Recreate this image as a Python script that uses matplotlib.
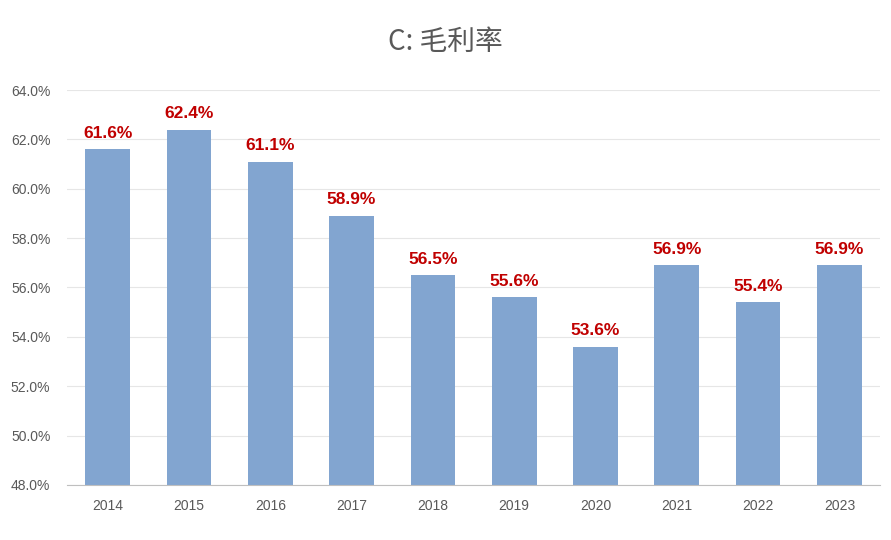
import matplotlib.pyplot as plt
from matplotlib.ticker import FuncFormatter

plt.rcParams['font.family'] = ['Noto Sans CJK SC', 'DejaVu Sans']

years = ['2014', '2015', '2016', '2017', '2018', '2019', '2020', '2021', '2022', '2023']
margin = [61.6, 62.4, 61.1, 58.9, 56.5, 55.6, 53.6, 56.9, 55.4, 56.9]

fig = plt.figure(figsize=(8.91, 5.4), dpi=100)
ax = fig.add_axes([0.0752, 0.1019, 0.9125, 0.7314])

x = range(len(years))
bars = ax.bar(x, margin, width=0.55, color='#82A5D0', zorder=2)

for xi, v in zip(x, margin):
    ax.text(xi, v + 0.35, f'{v:.1f}%', ha='center', va='bottom',
            color='#C00000', fontsize=12.5, fontweight='bold',
            family=['Calibri', 'Liberation Sans', 'DejaVu Sans'])

ax.set_ylim(48, 64)
ax.set_yticks(range(48, 65, 2))
ax.yaxis.set_major_formatter(FuncFormatter(lambda v, p: f'{v:.1f}%'))
ax.set_xlim(-0.5, 9.5)
ax.set_xticks(list(x))
ax.set_xticklabels(years)

ax.grid(axis='y', color='#E6E6E6', linewidth=0.8, zorder=0)
for s in ['top', 'right', 'left']:
    ax.spines[s].set_visible(False)
ax.spines['bottom'].set_color('#BFBFBF')
ax.tick_params(axis='both', length=0, colors='#595959', labelsize=10)
ax.tick_params(axis='x', pad=10)
ax.tick_params(axis='y', pad=12)
for lbl in ax.get_xticklabels() + ax.get_yticklabels():
    lbl.set_family(['Liberation Sans', 'DejaVu Sans'])

fig.text(0.5, 0.922, 'C: 毛利率', ha='center', va='center', fontsize=20, color='#595959')

fig.savefig('out.png', dpi=100)
